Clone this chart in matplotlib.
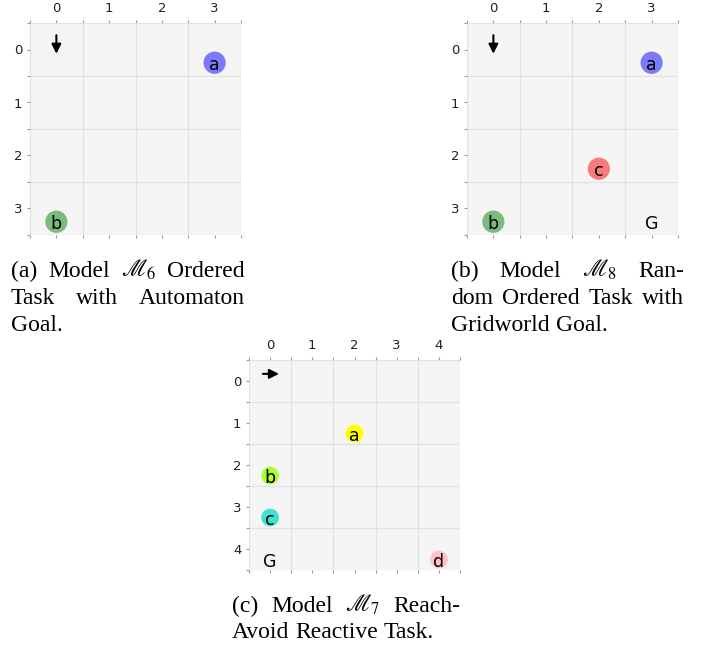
import matplotlib
matplotlib.use("Agg")
import matplotlib.pyplot as plt
from matplotlib.patches import Circle
from matplotlib.transforms import offset_copy
import numpy as np

plt.rcParams["mathtext.fontset"] = "stix"

W, H = 713, 648

# --- data ---
grid_sizes = [4, 4, 5]

# (a) ordered task, automaton goal
a_labels = ["a", "b"]
a_x = [3, 0]
a_y = [0.25, 3.25]
a_colors = ["blue", "green"]

# (b) random ordered task, gridworld goal
b_labels = ["a", "c", "b"]
b_x = [3, 2, 0]
b_y = [0.25, 2.25, 3.25]
b_colors = ["blue", "red", "green"]
b_goal = (3, 3.25)

# (c) reach-avoid reactive task
c_labels = ["a", "b", "c", "d"]
c_x = [2, 0, 0, 4]
c_y = [1.25, 2.25, 3.25, 4.25]
c_colors = ["yellow", "greenyellow", "turquoise", "pink"]
c_goal = (0, 4.25)

# agent start arrows (tail, tip)
a_arrow = ((0, -0.27), (0, 0.08))
b_arrow = ((0, -0.27), (0, 0.08))
c_arrow = ((-0.17, -0.17), (0.21, -0.17))

cap_a = [["(a)", "Model", r"$\mathscr{M}_6$", "Ordered"],
         ["Task", "with", "Automaton"],
         ["Goal."]]
cap_b = [["(b)", "Model", r"$\mathscr{M}_8$", "Ran-"],
         ["dom", "Ordered", "Task", "with"],
         ["Gridworld", "Goal."]]
cap_c = [["(c)", "Model", r"$\mathscr{M}_7$", "Reach-"],
         ["Avoid", "Reactive", "Task."]]

fig = plt.figure(figsize=(W / 100, H / 100), dpi=100)


def px_axes(x0, y0, x1, y1):
    return fig.add_axes([x0 / W, 1 - y1 / H, (x1 - x0) / W, (y1 - y0) / H])


def gridworld(ax, n, labels, xs, ys, colors, alpha, arrow, goal=None):
    ax.set_facecolor("#f5f5f5")
    ax.set_xlim(-0.5, n - 0.5)
    ax.set_ylim(n - 0.5, -0.5)
    for s in ax.spines.values():
        s.set_visible(False)
    ax.set_xticks(np.arange(n))
    ax.set_yticks(np.arange(n))
    ax.set_xticks(np.arange(n + 1) - 0.5, minor=True)
    ax.set_yticks(np.arange(n + 1) - 0.5, minor=True)
    ax.grid(which="minor", color="#e2e2e2", lw=1)
    ax.tick_params(which="both", top=True, bottom=True, left=True, right=False,
                   labeltop=True, labelbottom=False, direction="out",
                   length=2.5, width=0.8, color="#9a9a9a")
    ax.tick_params(which="major", labelsize=9.5, labelcolor="#222222", pad=3)
    ax.set_axisbelow(True)
    # letters sit with their baseline a little below the circle centre
    low = offset_copy(ax.transData, fig=fig, y=-7.5, units="dots")
    for lab, x, y, col in zip(labels, xs, ys, colors):
        ax.add_patch(Circle((x, y), 0.21, facecolor=col, edgecolor="none",
                            alpha=alpha, zorder=3))
        ax.text(x, y, lab, ha="center", va="baseline", fontsize=12.5,
                transform=low, zorder=4)
    if goal is not None:
        ax.text(goal[0], goal[1], "G", ha="center", va="baseline",
                fontsize=12.5, transform=low, zorder=4)
    ax.annotate("", xy=arrow[1], xytext=arrow[0],
                arrowprops=dict(arrowstyle="-|>", color="black", lw=1.5,
                                mutation_scale=14, shrinkA=0, shrinkB=0),
                zorder=5)


ax_a = px_axes(30, 23, 241, 235)
gridworld(ax_a, grid_sizes[0], a_labels, a_x, a_y, a_colors, 0.5, a_arrow)
ax_b = px_axes(467, 23, 678, 235)
gridworld(ax_b, grid_sizes[1], b_labels, b_x, b_y, b_colors, 0.5, b_arrow, b_goal)
ax_c = px_axes(249, 360, 460, 570)
gridworld(ax_c, grid_sizes[2], c_labels, c_x, c_y, c_colors, 1.0, c_arrow, c_goal)

# --- justified captions ---
renderer = fig.canvas.get_renderer()
CAP_FS = 17


def caption(lines, left, right, baselines):
    space = 0.25 * CAP_FS * 100 / 72
    for i, (words, yb) in enumerate(zip(lines, baselines)):
        texts = [fig.text(0, 1 - yb / H, w, fontsize=CAP_FS,
                          family="Liberation Serif", va="baseline")
                 for w in words]
        widths = [t.get_window_extent(renderer).width for t in texts]
        last = i == len(lines) - 1
        if last or len(words) == 1:
            gap = space
        else:
            gap = (right - left - sum(widths)) / (len(words) - 1)
        x = left
        for t, w in zip(texts, widths):
            t.set_x(x / W)
            x += w + gap


caption(cap_a, 11, 245, [277, 304, 331])
caption(cap_b, 451, 684, [277, 304, 331])
caption(cap_c, 232, 460, [612, 638])

fig.savefig("out.png", dpi=100)
